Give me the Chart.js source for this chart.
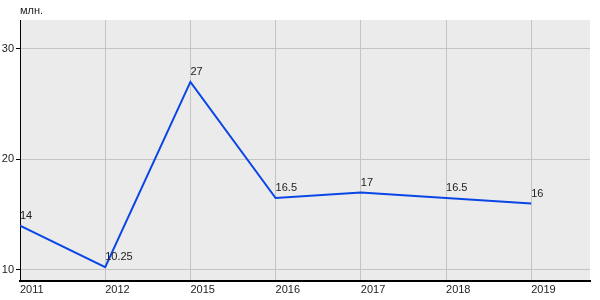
<!DOCTYPE html>
<html>
<head>
<meta charset="utf-8">
<script src="https://cdn.jsdelivr.net/npm/chart.js@4/dist/chart.umd.min.js"></script>
<style>
  html, body { margin: 0; padding: 0; background: #fff; }
  #wrap { width: 600px; height: 300px; }
</style>
</head>
<body>
<div id="wrap"><canvas id="myChart"></canvas></div>
<script>
const years = ["2011", "2012", "2015", "2016", "2017", "2018", "2019"];
const values = [14, 10.25, 27, 16.5, 17, 16.5, 16];
const valueLabels = ["14", "10.25", "27", "16.5", "17", "16.5", "16"];
const yTicks = [10, 20, 30];
const unitLabel = "млн.";

const points = values.map((v, i) => ({ x: i, y: v }));

// фон области графика, подпись единиц и подписи значений
const extras = {
	id: "extras",
	beforeDraw(chart) {
		const a = chart.chartArea;
		const ctx = chart.ctx;
		ctx.save();
		ctx.fillStyle = "#ebebeb";
		ctx.fillRect(a.left, a.top, a.right - a.left, a.bottom - a.top);
		ctx.restore();
	},
	afterDraw(chart) {
		const ctx = chart.ctx;
		const a = chart.chartArea;
		ctx.save();
		ctx.font = "11px 'Liberation Sans', Arial, sans-serif";
		ctx.fillStyle = "#222";
		ctx.textAlign = "left";
		ctx.textBaseline = "middle";
		ctx.fillText(unitLabel, a.left, 11);
		const meta = chart.getDatasetMeta(0);
		meta.data.forEach((pt, i) => {
			ctx.fillText(valueLabels[i], pt.x, pt.y - 10);
		});
		ctx.restore();
	}
};

const ctx = document.getElementById("myChart").getContext("2d");
new Chart(ctx, {
	type: "line",
	data: {
		datasets: [{
			data: points,
			borderColor: "#0a46e6",
			borderWidth: 2,
			pointRadius: 0,
			fill: false,
			tension: 0
		}]
	},
	options: {
		responsive: true,
		maintainAspectRatio: false,
		animation: false,
		layout: { padding: { top: 20, right: 10, bottom: 0, left: 0 } },
		plugins: {
			legend: { display: false },
			tooltip: { enabled: false }
		},
		scales: {
			x: {
				type: "linear",
				min: 0,
				max: 6.69,
				afterBuildTicks: (axis) => {
					axis.ticks = years.map((y, i) => ({ value: i }));
				},
				ticks: {
					align: "start",
					padding: 2,
					color: "#222",
					font: { family: "'Liberation Sans', Arial, sans-serif", size: 11 },
					callback: (v) => years[v]
				},
				grid: { color: "#c4c4c4", drawTicks: false },
				border: { color: "#000", width: 2 },
				afterFit: (axis) => { axis.height = 19; }
			},
			y: {
				min: 9,
				max: 32.6,
				afterBuildTicks: (axis) => {
					axis.ticks = yTicks.map(v => ({ value: v }));
				},
				ticks: {
					padding: 2,
					color: "#222",
					font: { family: "'Liberation Sans', Arial, sans-serif", size: 11 }
				},
				grid: { color: "#c4c4c4", tickLength: 4, tickColor: "#000" },
				border: { color: "#000", width: 1 },
				afterFit: (axis) => { axis.width = 20; }
			}
		}
	},
	plugins: [extras]
});
</script>
</body>
</html>
